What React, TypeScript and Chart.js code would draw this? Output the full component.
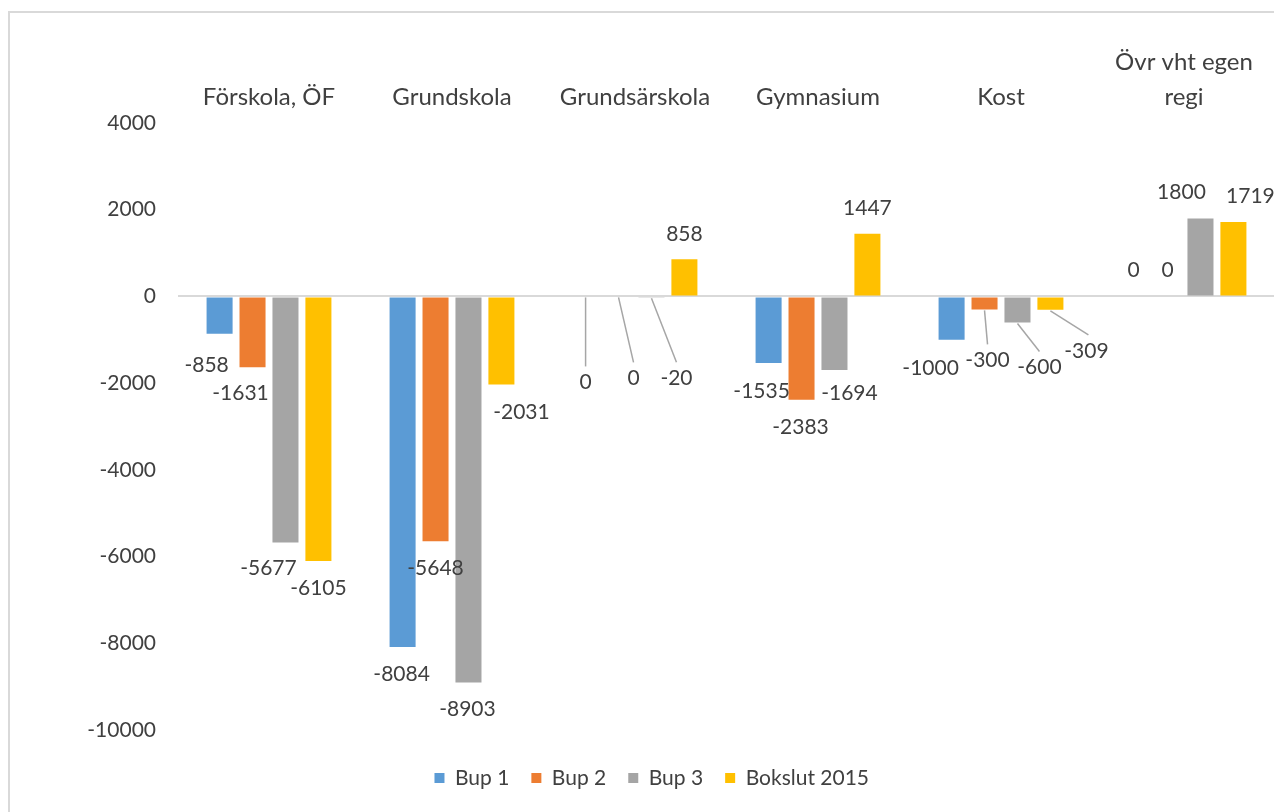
import React, { useEffect, useRef } from "react";
import { Chart, registerables } from "chart.js";

Chart.register(...registerables);

const categories: (string | string[])[] = [
  "Förskola, ÖF",
  "Grundskola",
  "Grundsärskola",
  "Gymnasium",
  "Kost",
  ["Övr vht egen", "regi"],
];

const seriesNames = ["Bup 1", "Bup 2", "Bup 3", "Bokslut 2015"];
const bup1 = [-858, -8084, 0, -1535, -1000, 0];
const bup2 = [-1631, -5648, 0, -2383, -300, 0];
const bup3 = [-5677, -8903, -20, -1694, -600, 1800];
const bokslut = [-6105, -2031, 858, 1447, -309, 1719];
const seriesColors = ["#5B9BD5", "#ED7D31", "#A5A5A5", "#FFC000"];

const yMin = -10000;
const yMax = 4000;
const yStep = 2000;

// Label placement (layout only): [dx, dy, leaderLine] relative to bar end
const LABEL_LAYOUT: [number, number, boolean][][] = [
  [[-13, 32, false], [-1, 27, false], [0, 86, true], [-7, 28, false], [-21, 28, false], [-1, -26, false]],
  [[-12, 26, false], [0, 27, false], [15, 82, true], [-1, 27, false], [3, 51, true], [0, -26, false]],
  [[-17, 26, false], [-1, 27, false], [25, 81, true], [15, 23, false], [22, 45, true], [-19, -26, false]],
  [[0, 27, false], [20, 28, false], [0, -25, false], [0, -25, false], [36, 41, true], [17, -26, false]],
];

const FONT = "Lato, 'Open Sans', sans-serif";
const TEXT = "#404040";

const dataLabelPlugin = {
  id: "dataLabels",
  afterDatasetsDraw(chart: any) {
    const ctx = chart.ctx;
    ctx.save();
    ctx.font = `21px ${FONT}`;
    ctx.fillStyle = TEXT;
    ctx.textAlign = "center";
    ctx.textBaseline = "middle";
    chart.data.datasets.forEach((ds: any, di: number) => {
      const meta = chart.getDatasetMeta(di);
      meta.data.forEach((el: any, j: number) => {
        const v = ds.data[j];
        const [dx, dy, leader] = LABEL_LAYOUT[di][j];
        const lx = el.x + dx;
        const ly = el.y + dy;
        if (leader) {
          ctx.save();
          ctx.strokeStyle = "#A6A6A6";
          ctx.lineWidth = 1.5;
          ctx.beginPath();
          ctx.moveTo(el.x, el.y + 1);
          ctx.lineTo(lx + (dx > 30 ? 2 : 0), ly - 16);
          ctx.stroke();
          ctx.restore();
        }
        ctx.fillText(String(v), lx, ly);
      });
    });
    ctx.restore();
  },
};

export default function App() {
  const canvasRef = useRef<HTMLCanvasElement | null>(null);

  useEffect(() => {
    const series = [bup1, bup2, bup3, bokslut];
    const chart = new Chart(canvasRef.current as HTMLCanvasElement, {
      type: "bar",
      data: {
        labels: categories,
        datasets: series.map((d, i) => ({
          label: seriesNames[i],
          data: d,
          backgroundColor: seriesColors[i],
          borderWidth: 0,
          categoryPercentage: 0.72,
          barPercentage: 0.79,
        })),
      },
      options: {
        animation: false,
        responsive: false,
        maintainAspectRatio: false,
        layout: { padding: { left: 18, right: 24.5, top: 0, bottom: 14.5 } },
        plugins: {
          legend: {
            position: "bottom",
            labels: {
              boxWidth: 10,
              boxHeight: 10,
              padding: 22,
              color: TEXT,
              font: { family: FONT, size: 21 },
            },
            title: { display: true, text: "", padding: 0, font: { size: 10, lineHeight: 1.55 } },
          },
          tooltip: { enabled: false },
        },
        scales: {
          x: {
            position: "top",
            grid: { display: false, drawTicks: false },
            border: { display: false },
            ticks: {
              color: TEXT,
              font: { family: FONT, size: 24, lineHeight: 1.46 },
              padding: 8.5,
              maxRotation: 0,
              autoSkip: false,
            },
            afterFit(scale: any) {
              scale.height = 110;
            },
          },
          y: {
            min: yMin,
            max: yMax,
            grid: {
              drawTicks: false,
              color: (c: any) => (c.tick && c.tick.value === 0 ? "#D9D9D9" : "rgba(0,0,0,0)"),
              lineWidth: 2,
            },
            border: { display: false },
            ticks: {
              stepSize: yStep,
              color: TEXT,
              font: { family: FONT, size: 21 },
              padding: 21.5,
              callback: (v: any) => String(v),
            },
            afterFit(scale: any) {
              scale.width = 149.5;
            },
          },
        },
      },
      plugins: [dataLabelPlugin],
    });
    return () => chart.destroy();
  }, []);

  return (
    <div style={{ position: "fixed", left: 0, top: 0, width: 1274, height: 812, overflow: "hidden", background: "#fff" }}>
      <div
        style={{
          position: "absolute",
          left: 8,
          top: 11,
          width: 1400,
          height: 900,
          borderTop: "2px solid #D9D9D9",
          borderLeft: "2px solid #D9D9D9",
          boxSizing: "border-box",
        }}
      />
      <canvas
        ref={canvasRef}
        width={1290}
        height={800}
        style={{ position: "absolute", left: 10, top: 13, width: 1290, height: 800 }}
      />
    </div>
  );
}
